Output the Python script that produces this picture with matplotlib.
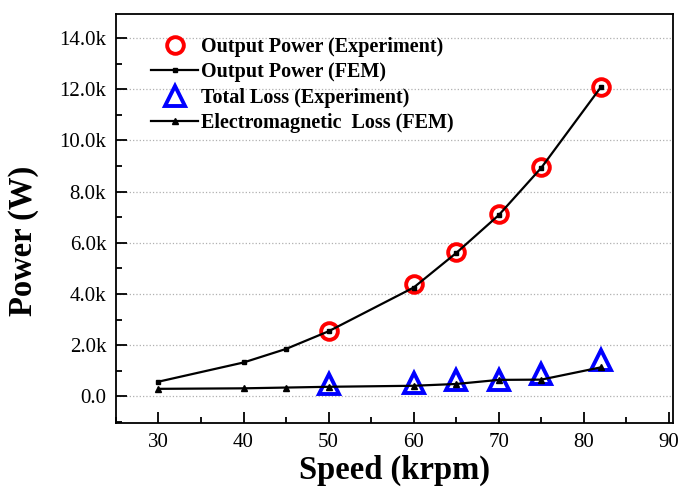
import matplotlib
matplotlib.use("Agg")
import matplotlib.pyplot as plt
from matplotlib.ticker import MultipleLocator, FuncFormatter

plt.rcParams['font.family'] = ['Liberation Serif', 'DejaVu Serif']

speed_fem = [30, 40, 45, 50, 60, 65, 70, 75, 82]
output_fem = [570, 1320, 1850, 2540, 4250, 5600, 7080, 8930, 12080]
em_loss_fem = [290, 310, 340, 370, 410, 480, 640, 650, 1130]

speed_exp = [50, 60, 65, 70, 75, 82]
output_exp = [2560, 4400, 5640, 7110, 8980, 12100]
total_loss_exp = [460, 500, 620, 650, 860, 1420]

fig, ax = plt.subplots(figsize=(6.82, 4.92), dpi=100)
fig.subplots_adjust(left=0.17, right=0.987, top=0.972, bottom=0.14)

ax.plot(speed_exp, output_exp, 'o', ls='none', mfc='none', mec='#ff0000',
        mew=2.8, ms=12, label='Output Power (Experiment)', zorder=3)
ax.plot(speed_fem, output_fem, '-s', color='black', lw=1.6, ms=3,
        label='Output Power (FEM)', zorder=4)
ax.plot(speed_exp, total_loss_exp, '^', ls='none', mfc='none', mec='#0000ff',
        mew=2.8, ms=14, label='Total Loss (Experiment)', zorder=3)
ax.plot(speed_fem, em_loss_fem, '-^', color='black', lw=1.6, ms=4,
        label='Electromagnetic  Loss (FEM)', zorder=4)

ax.set_xlim(25, 90.5)
ax.set_ylim(-1050, 14950)
ax.xaxis.set_major_locator(MultipleLocator(10))
ax.xaxis.set_minor_locator(MultipleLocator(5))
ax.yaxis.set_major_locator(MultipleLocator(2000))
ax.yaxis.set_minor_locator(MultipleLocator(1000))
ax.yaxis.set_major_formatter(FuncFormatter(lambda v, p: '0.0' if v == 0 else f'{v/1000:.1f}k'))

ax.tick_params(which='both', direction='in', top=False, right=False, labelsize=15)
ax.tick_params(which='major', length=8, width=1.3, pad=7)
ax.tick_params(which='minor', length=4, width=1.3)
for s in ax.spines.values():
    s.set_linewidth(1.3)

ax.grid(axis='y', which='major', ls=':', color='#b0b0b0', lw=0.9)

ax.set_xlabel('Speed (krpm)', fontsize=23.5, fontweight='bold', labelpad=2)
ax.set_ylabel('Power (W)', fontsize=23.5, fontweight='bold')
ax.yaxis.set_label_coords(-0.138, 0.446)

ax.legend(loc='upper left', bbox_to_anchor=(0.042, 0.973), frameon=False,
          prop={'weight': 'bold', 'size': 14.5}, handlelength=2.3,
          handletextpad=0.15, labelspacing=0.27, borderaxespad=0.2)

fig.savefig('out.png', dpi=100)
